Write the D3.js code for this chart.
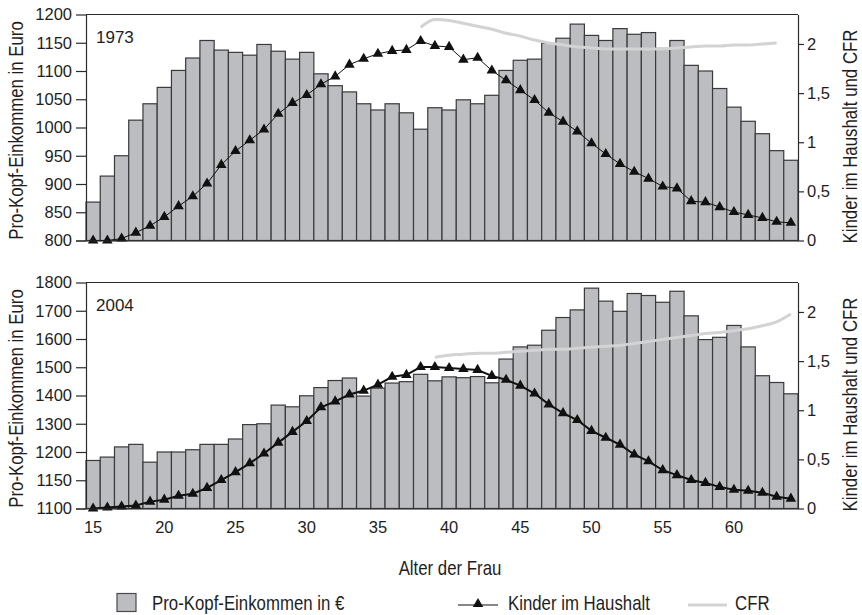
<!DOCTYPE html>
<html>
<head>
<meta charset="utf-8">
<script src="https://cdn.jsdelivr.net/npm/d3@7"></script>
<style>
  body { margin: 0; background: #fff; }
  svg text { fill: #1e1e1e; }
  .num { font-family: "Liberation Sans", Arial, sans-serif; font-size: 16.5px; }
  .lbl { font-family: "Liberation Sans", Arial, sans-serif; font-size: 20.5px; }
</style>
</head>
<body>
<div id="chart"></div>
<script>
// Alter der Frau (categories)
const ages = [15, 16, 17, 18, 19, 20, 21, 22, 23, 24, 25, 26, 27, 28, 29, 30, 31, 32, 33, 34,
  35, 36, 37, 38, 39, 40, 41, 42, 43, 44, 45, 46, 47, 48, 49, 50, 51, 52, 53, 54,
  55, 56, 57, 58, 59, 60, 61, 62, 63, 64];
const xTicks = [15, 20, 25, 30, 35, 40, 45, 50, 55, 60];

// 1973
const income1973 = [868, 914, 950, 1013, 1042, 1071, 1101, 1123, 1154, 1137,
  1133, 1128, 1147, 1135, 1121, 1133, 1095, 1074, 1063, 1042,
  1031, 1042, 1026, 997, 1035, 1031, 1049, 1042, 1057, 1101,
  1119, 1121, 1149, 1158, 1183, 1163, 1154, 1175, 1165, 1168,
  1140, 1154, 1110, 1100, 1069, 1036, 1011, 989, 959, 942];
const kids1973 = [0, 0, 0.02, 0.08, 0.15, 0.24, 0.35, 0.45, 0.58, 0.77,
  0.91, 1.02, 1.13, 1.29, 1.40, 1.48, 1.59, 1.67, 1.79, 1.85,
  1.90, 1.93, 1.94, 2.03, 1.98, 1.97, 1.84, 1.86, 1.73, 1.63,
  1.53, 1.43, 1.30, 1.21, 1.11, 0.99, 0.88, 0.78, 0.70, 0.63,
  0.55, 0.53, 0.40, 0.39, 0.34, 0.29, 0.26, 0.23, 0.19, 0.18];
const cfrAges1973 = [38, 39, 40, 41, 42, 43, 44, 45, 46, 47, 48, 49, 50,
  51, 52, 53, 54, 55, 56, 57, 58, 59, 60, 61, 62, 63];
const cfr1973 = [2.17, 2.25, 2.24, 2.21, 2.18, 2.15, 2.11, 2.08, 2.04, 2.01, 1.99, 1.97, 1.96,
  1.95, 1.95, 1.95, 1.95, 1.95, 1.96, 1.97, 1.98, 1.98, 1.99, 1.99, 2.00, 2.01];
const yTicks1973 = [800, 850, 900, 950, 1000, 1050, 1100, 1150, 1200];

// 2004
const income2004 = [1185, 1191, 1218, 1227, 1182, 1200, 1200, 1208, 1227, 1227,
  1246, 1297, 1300, 1366, 1360, 1399, 1428, 1453, 1462, 1398,
  1426, 1444, 1449, 1475, 1452, 1466, 1463, 1467, 1445, 1529,
  1572, 1578, 1631, 1676, 1703, 1780, 1734, 1698, 1761, 1754,
  1730, 1769, 1682, 1598, 1606, 1648, 1572, 1470, 1446, 1406];
const kids2004 = [0, 0.01, 0.02, 0.03, 0.07, 0.09, 0.13, 0.15, 0.21, 0.29,
  0.37, 0.46, 0.56, 0.67, 0.78, 0.89, 1.03, 1.09, 1.16, 1.20,
  1.26, 1.34, 1.36, 1.44, 1.44, 1.43, 1.42, 1.41, 1.35, 1.31,
  1.25, 1.17, 1.06, 0.97, 0.90, 0.79, 0.72, 0.65, 0.55, 0.48,
  0.39, 0.34, 0.29, 0.26, 0.22, 0.19, 0.18, 0.16, 0.12, 0.10];
const cfrAges2004 = [39, 40, 41, 42, 43, 44, 45, 46, 47, 48, 49, 50, 51,
  52, 53, 54, 55, 56, 57, 58, 59, 60, 61, 62, 63, 64];
const cfr2004 = [1.54, 1.56, 1.57, 1.58, 1.58, 1.59, 1.60, 1.61, 1.62, 1.62, 1.63, 1.64, 1.65,
  1.66, 1.68, 1.70, 1.72, 1.74, 1.76, 1.78, 1.79, 1.81, 1.83, 1.86, 1.90, 1.98];
// the 2004 axis is printed with uneven steps at the bottom
const yTicks2004 = [1100, 1150, 1200, 1300, 1400, 1500, 1600, 1700, 1800];

const rightTicks = [0, 0.5, 1, 1.5, 2];

const width = 862;
const height = 615;
const left = 86;
const right = 798;
const ink = '#2b2b2b';
const barFill = '#bcbdc1';
const cfrColor = '#d3d3d3';
const narrow = 0.82; // no condensed face installed, squeeze the labels

const de = d3.formatLocale({ decimal: ',', thousands: '.', grouping: [3], currency: ['', ' €'] });
const fmtRight = de.format('~g');

const svg = d3.select('#chart').append('svg')
  .attr('width', width)
  .attr('height', height);

const x = d3.scaleBand().domain(ages).range([left, right]).padding(0);

function label(parent, tx, ty, rot, anchor, str) {
  return parent.append('text')
    .attr('class', 'lbl')
    .attr('text-anchor', anchor)
    .attr('transform', `translate(${tx},${ty})${rot ? ` rotate(${rot})` : ''} scale(${narrow},1)`)
    .text(str);
}

function drawPanel(opts) {
  const top = opts.top;
  const bottom = opts.bottom;
  const n = opts.yTicks.length - 1;
  const step = (bottom - top) / n;

  // left scale (piecewise so the printed ticks are evenly spaced)
  const y = d3.scaleLinear()
    .domain(opts.yTicks)
    .range(opts.yTicks.map((d, i) => bottom - i * step));
  const yR = d3.scaleLinear().domain([0, 2.3]).range([bottom, top]);

  const g = svg.append('g');

  // bars
  g.selectAll('rect.bar')
    .data(ages.map((a, i) => ({ age: a, v: opts.income[i] })))
    .enter().append('rect')
      .attr('class', 'bar')
      .attr('x', d => x(d.age))
      .attr('y', d => y(d.v))
      .attr('width', x.bandwidth())
      .attr('height', d => bottom - y(d.v))
      .attr('fill', barFill)
      .attr('stroke', '#3a3a3a')
      .attr('stroke-width', 1.2);

  // CFR
  const cfrLine = d3.line()
    .x((d, i) => x(opts.cfrAges[i]) + x.bandwidth() / 2)
    .y(d => yR(d))
    .curve(d3.curveMonotoneX);
  g.append('path')
    .datum(opts.cfr)
    .attr('d', cfrLine)
    .attr('fill', 'none')
    .attr('stroke', cfrColor)
    .attr('stroke-width', 3);

  // Kinder im Haushalt
  const kidLine = d3.line()
    .x((d, i) => x(ages[i]) + x.bandwidth() / 2)
    .y(d => yR(d));
  g.append('path')
    .datum(opts.kids)
    .attr('d', kidLine)
    .attr('fill', 'none')
    .attr('stroke', '#111')
    .attr('stroke-width', opts.kidWidth);

  g.selectAll('path.tri')
    .data(opts.kids)
    .enter().append('path')
      .attr('class', 'tri')
      .attr('d', d3.symbol().type(d3.symbolTriangle).size(48))
      .attr('transform', (d, i) => `translate(${x(ages[i]) + x.bandwidth() / 2},${yR(d)})`)
      .attr('fill', '#111');

  // frame top
  g.append('line')
    .attr('x1', left).attr('x2', right)
    .attr('y1', top).attr('y2', top)
    .attr('stroke', ink).attr('stroke-width', 1.2);

  // left axis
  const axL = g.append('g')
    .attr('transform', `translate(${left},0)`)
    .call(d3.axisLeft(y).tickValues(opts.yTicks).tickSize(10).tickSizeOuter(0).tickFormat(d3.format('d')));
  axL.selectAll('text').attr('class', 'num').attr('x', -14);

  // right axis
  const axR = g.append('g')
    .attr('transform', `translate(${right},0)`)
    .call(d3.axisRight(yR).tickValues(rightTicks).tickSize(6).tickSizeOuter(0).tickFormat(fmtRight));
  axR.selectAll('text').attr('class', 'num').attr('x', 9);

  // bottom axis
  const axB = g.append('g')
    .attr('transform', `translate(0,${bottom})`)
    .call(d3.axisBottom(x).tickValues(xTicks).tickSize(0).tickSizeOuter(0));
  axB.select('.domain').attr('d', `M${left - 10},0.5H${right}`);
  if (opts.showX) {
    axB.selectAll('text').attr('class', 'num').attr('dy', '1.15em').attr('y', 6);
  } else {
    axB.selectAll('text').remove();
  }

  [axL, axR, axB].forEach((a) => {
    a.attr('font-size', null).attr('font-family', null);
    a.selectAll('.domain, line').attr('stroke', ink).attr('stroke-width', 1.2);
    a.selectAll('text').attr('fill', '#1e1e1e');
  });

  // year label
  g.append('text')
    .attr('class', 'num')
    .attr('x', 96)
    .attr('y', top + 28)
    .style('font-size', '17px')
    .text(opts.year);

  // axis titles
  const mid = (top + bottom) / 2;
  label(g, 23, mid + 3, -90, 'middle', 'Pro-Kopf-Einkommen in Euro');
  label(g, 857, mid + 9, -90, 'middle', 'Kinder im Haushalt und CFR');
}

drawPanel({
  top: 14.5, bottom: 240.5, year: '1973',
  income: income1973, kids: kids1973, cfr: cfr1973, cfrAges: cfrAges1973,
  yTicks: yTicks1973, kidWidth: 1, showX: false,
});
drawPanel({
  top: 282.5, bottom: 508.5, year: '2004',
  income: income2004, kids: kids2004, cfr: cfr2004, cfrAges: cfrAges2004,
  yTicks: yTicks2004, kidWidth: 2, showX: true,
});

// x title
label(svg, 450, 575, 0, 'middle', 'Alter der Frau');

// legend
const leg = svg.append('g');
leg.append('rect')
  .attr('x', 117).attr('y', 593.5)
  .attr('width', 19).attr('height', 18)
  .attr('fill', barFill).attr('stroke', '#4a4a4a').attr('stroke-width', 1.2);
label(leg, 152, 610, 0, 'start', 'Pro-Kopf-Einkommen in €');

leg.append('line')
  .attr('x1', 458).attr('x2', 498).attr('y1', 605).attr('y2', 605)
  .attr('stroke', '#111').attr('stroke-width', 1.2);
leg.append('path')
  .attr('d', d3.symbol().type(d3.symbolTriangle).size(48))
  .attr('transform', 'translate(478,604)')
  .attr('fill', '#111');
label(leg, 508, 610, 0, 'start', 'Kinder im Haushalt');

leg.append('line')
  .attr('x1', 688).attr('x2', 727).attr('y1', 605).attr('y2', 605)
  .attr('stroke', cfrColor).attr('stroke-width', 3);
label(leg, 735, 610, 0, 'start', 'CFR');
</script>
</body>
</html>
